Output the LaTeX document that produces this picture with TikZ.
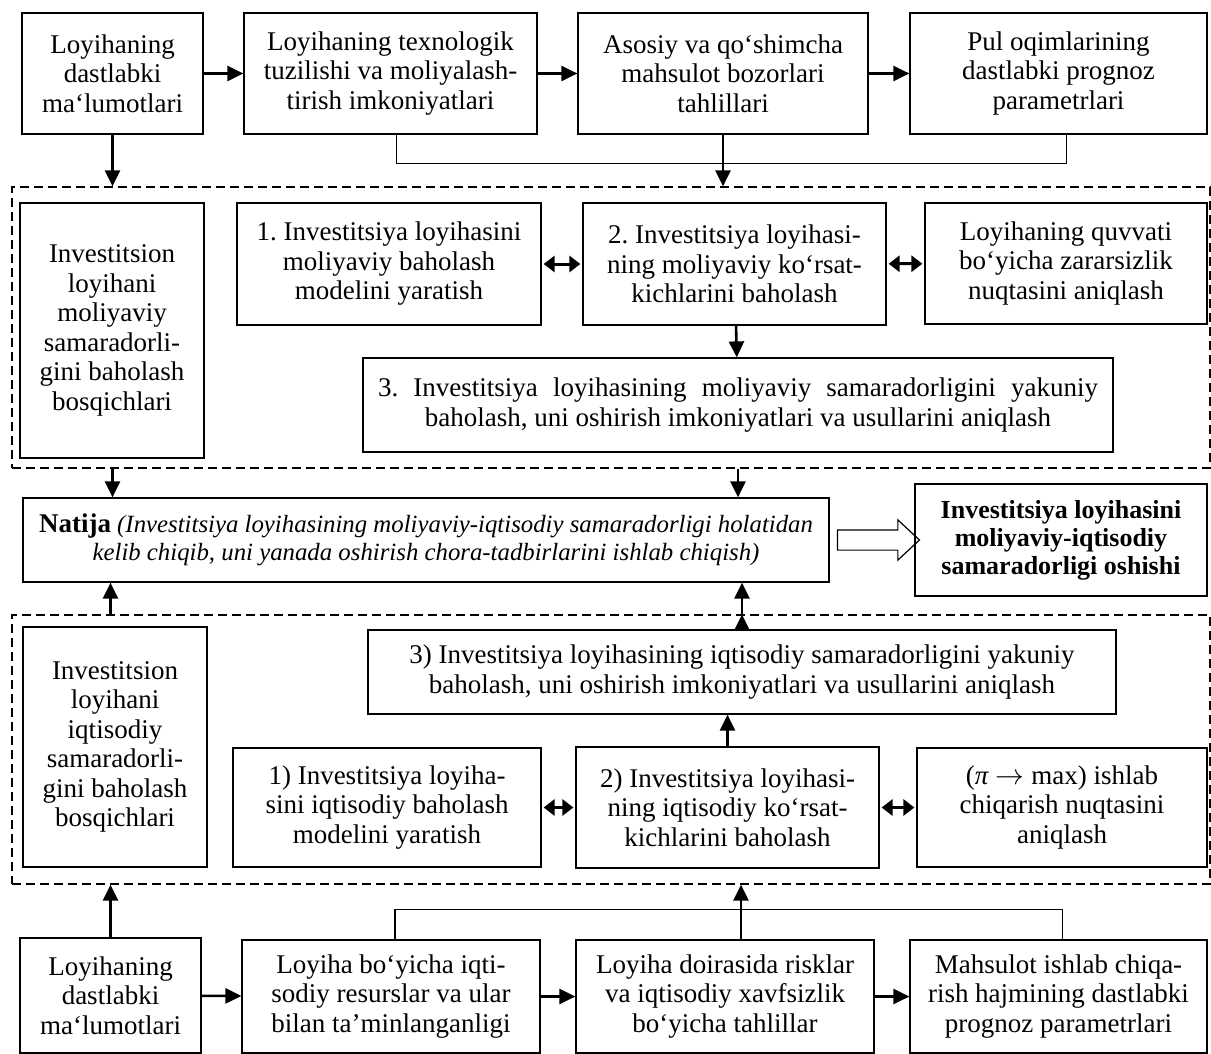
\documentclass[tikz,border=0pt]{standalone}
\usepackage{fontspec}
\setmainfont{Liberation Serif}
\usetikzlibrary{arrows.meta,shapes.arrows}
\frenchspacing

\begin{document}
\begin{tikzpicture}[x=0.5pt,y=-0.5pt,
    box/.style={draw, line width=0.6pt, align=center, inner sep=0pt,
        font=\fontsize{13.5}{14.75}\selectfont},
    wh/.style 2 args={minimum width=#1*0.5pt, minimum height=#2*0.5pt},
    frame/.style={draw, dash pattern=on 4.5pt off 2.5pt, line width=0.6pt, inner sep=0pt},
    arr/.style={-{Triangle[length=8pt,width=7.5pt]}, line width=1.3pt},
    darr/.style={{Triangle[length=5.5pt,width=8pt]}-{Triangle[length=5.5pt,width=8pt]},
        line width=1.5pt, shorten <=1pt, shorten >=1pt},
    link/.style={line width=0.6pt},
    hollow/.style={single arrow, draw, line width=0.6pt, inner xsep=0pt, inner ysep=4.75pt,
        minimum height=41pt, single arrow head extend=5pt, single arrow tip angle=86}]
    \useasboundingbox (0,0) rectangle (1211,1054);

    % top row
    \node[box, wh={181}{121}] (t1) at (112.5,73.5) {Loyihaning\\dastlabki\\ma‘lumotlari};
    \node[box, wh={293}{121}] (t2) at (390.5,73.5) {Loyihaning texnologik\\tuzilishi va moliyalash-\\tirish imkoniyatlari};
    \node[box, wh={290}{121}] (t3) at (723,73.5) {Asosiy va qo‘shimcha\\mahsulot bozorlari\\tahlillari};
    \node[box, wh={297}{121}] (t4) at (1058.5,73.5) {Pul oqimlarining\\dastlabki prognoz\\parametrlari};

    % moliyaviy baholash
    \node[frame, wh={1198}{281}] (f1) at (611,327.5) {};
    \node[box, wh={184}{255}] (l1) at (112,330.5) {Investitsion\\loyihani\\moliyaviy\\samaradorli-\\gini baholash\\bosqichlari};
    \node[box, wh={304}{122}] (m1) at (389,264) {1. Investitsiya loyihasini\\moliyaviy baholash\\modelini yaratish};
    \node[box, wh={303}{122}] (m2) at (734.5,264) {2. Investitsiya loyihasi-\\ning moliyaviy ko‘rsat-\\kichlarini baholash};
    \node[box, wh={282}{121}] (m3) at (1066,263.5) {Loyihaning quvvati\\bo‘yicha zararsizlik\\nuqtasini aniqlash};
    \node[box, wh={750}{94}] (m4) at (738,405) {\makebox[360pt][s]{3. Investitsiya loyihasining moliyaviy samaradorligini yakuniy}\\baholash, uni oshirish imkoniyatlari va usullarini aniqlash};

    % natija
    \node[box, wh={806}{84}, font=\fontsize{12.4}{14}\selectfont] (nat) at (426,540) {{\fontsize{13.5}{14}\selectfont\textbf{Natija}} \textit{(Investitsiya loyihasining moliyaviy-iqtisodiy samaradorligi holatidan}\\\textit{kelib chiqib, uni yanada oshirish chora-tadbirlarini ishlab chiqish)}};
    \node[box, wh={292}{112}, line width=1.1pt, font=\fontsize{13}{14}\selectfont\bfseries] (res) at (1061,540) {Investitsiya loyihasini\\moliyaviy-iqtisodiy\\samaradorligi oshishi};
    \node[hollow] (ha) at (873,540) {};

    % iqtisodiy baholash
    \node[frame, wh={1198}{269}] (f2) at (611,749.5) {};
    \node[box, wh={184}{240}] (l2) at (115,747) {Investitsion\\loyihani\\iqtisodiy\\samaradorli-\\gini baholash\\bosqichlari};
    \node[box, wh={748}{84}] (n4) at (742,672) {3) Investitsiya loyihasining iqtisodiy samaradorligini yakuniy\\baholash, uni oshirish imkoniyatlari va usullarini aniqlash};
    \node[box, wh={308}{119}] (o1) at (387,807.5) {1) Investitsiya loyiha-\\sini iqtisodiy baholash\\modelini yaratish};
    \node[box, wh={303}{121}] (o2) at (727.5,807.5) {2) Investitsiya loyihasi-\\ning iqtisodiy ko‘rsat-\\kichlarini baholash};
    \node[box, wh={290}{119}] (o3) at (1062,807.5) {(\textit{π} $\rightarrow$ max) ishlab\\chiqarish nuqtasini\\aniqlash};

    % bottom row
    \node[box, wh={181}{115}] (b1) at (110.5,995.5) {Loyihaning\\dastlabki\\ma‘lumotlari};
    \node[box, wh={298}{113}] (b2) at (391,996.5) {Loyiha bo‘yicha iqti-\\sodiy resurslar va ular\\bilan ta’minlanganligi};
    \node[box, wh={298}{113}] (b3) at (725,996.5) {Loyiha doirasida risklar\\va iqtisodiy xavfsizlik\\bo‘yicha tahlillar};
    \node[box, wh={297}{113}] (b4) at (1058.5,996.5) {Mahsulot ishlab chiqa-\\rish hajmining dastlabki\\prognoz parametrlari};

    \draw[arr]
    (t1) edge (t2)
    (t2) edge (t3)
    (t3) edge (t4)
    (b1) edge (b2)
    (b2) edge (b3)
    (b3) edge (b4)
    (m2) edge (m4)
    (o2) edge (o2 |- n4.south)
    (t1.south) edge (t1.south |- f1.north)
    (t3.south) edge (t3.south |- f1.north)
    (t1 |- f1.south) edge (t1 |- nat.north)
    (m4 |- f1.south) edge (m4 |- nat.north)
    (b1.north) edge (b1.north |- f2.south)
    ([xshift=8pt]b3.north) edge ([xshift=8pt]b3.north |- f2.south)
    (b1 |- f2.north) edge (b1 |- nat.south)
    (n4 |- f2.north) edge (n4 |- nat.south);

    \draw[darr]
    (m1) edge (m2)
    (m2) edge (m3)
    (o1) edge (o2)
    (o2) edge (o3);

    \draw[link] ([xshift=3pt]t2.south) -- ++(0,29) -| ([xshift=4pt]t4.south);
    \draw[link] ([xshift=2pt]b2.north) -- ++(0,-30) -| ([xshift=2pt]b4.north);
\end{tikzpicture}
\end{document}
